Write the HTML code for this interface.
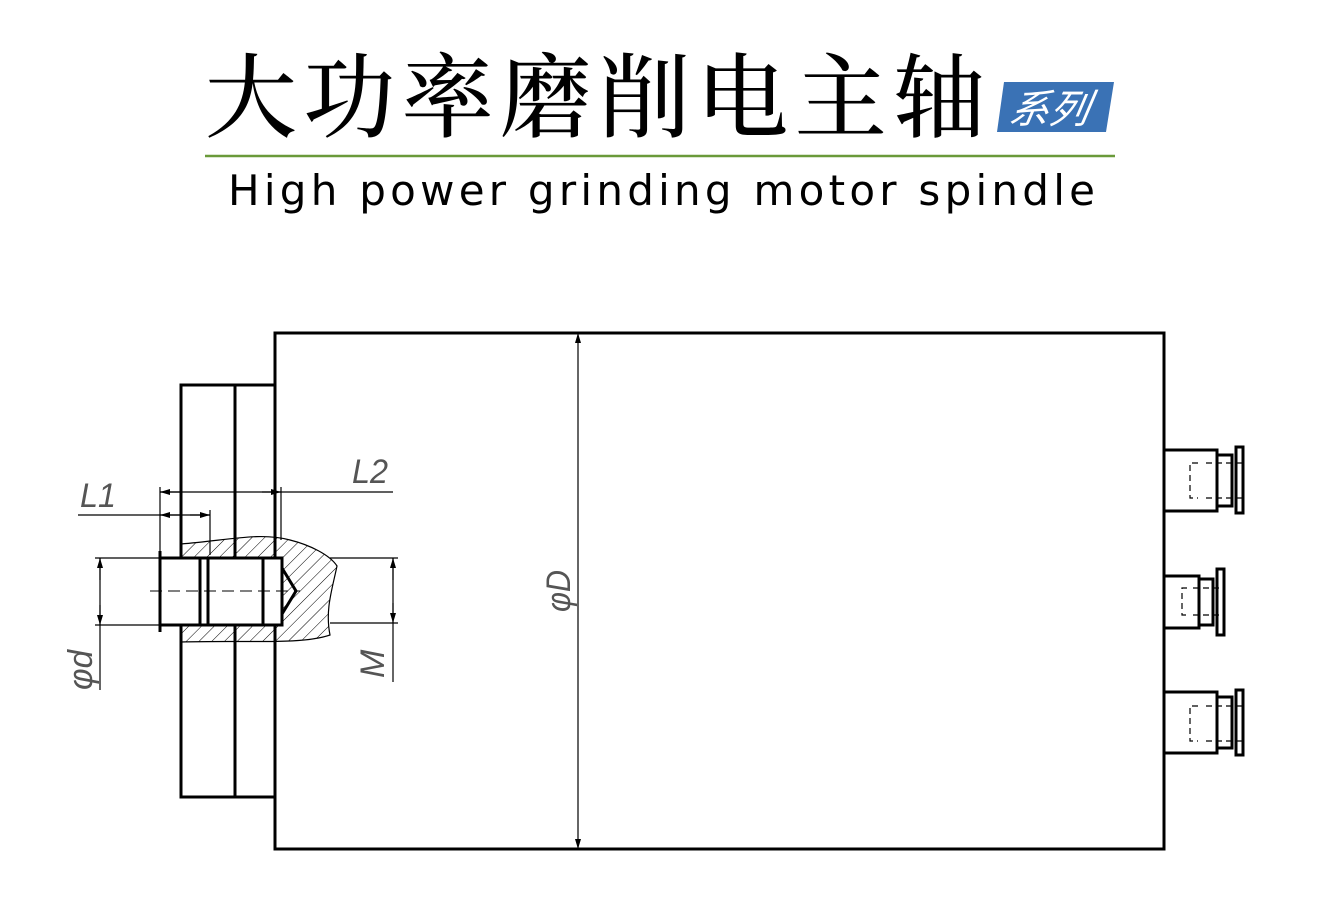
<!DOCTYPE html>
<html><head><meta charset="utf-8"><style>html,body{margin:0;padding:0;background:#fff}svg{display:block}</style></head>
<body>
<svg width="1325" height="913" viewBox="0 0 1325 913" xmlns="http://www.w3.org/2000/svg">
<defs>
<pattern id="h" patternUnits="userSpaceOnUse" width="9" height="9" patternTransform="rotate(45)">
<line x1="0" y1="0" x2="0" y2="9" stroke="#000" stroke-width="1"/>
</pattern>
<marker id="a" viewBox="0 0 10 10" refX="10" refY="5" markerWidth="10" markerHeight="10" orient="auto-start-reverse" markerUnits="userSpaceOnUse"><path d="M0,2 L10,5 L0,8 Z" fill="#000"/></marker>
</defs>
<text x="205" y="130" font-family="'Noto Serif CJK SC',serif" font-size="92" font-weight="500" textLength="780" lengthAdjust="spacing">大功率磨削电主轴</text>
<polygon points="1004,82 1114,82 1106,132 997,132" fill="#3a72b5"/>
<text x="1008" y="123" font-family="'Noto Sans CJK SC',sans-serif" font-size="40" fill="#fff" font-style="italic" transform="skewX(-10) translate(21,0)">系列</text>
<line x1="205" y1="156" x2="1115" y2="156" stroke="#6a9a3a" stroke-width="2.5"/>
<text x="228" y="205" font-family="'DejaVu Sans','Liberation Sans',sans-serif" font-size="42" textLength="867" lengthAdjust="spacing">High power grinding motor spindle</text>

<g fill="none" stroke="#000">
<rect x="275" y="333" width="889" height="516" stroke-width="3"/>
<rect x="181" y="385" width="94" height="412" stroke-width="3"/>
<line x1="235" y1="385" x2="235" y2="797" stroke-width="3"/>
<path d="M181,544 C230,540 260,532 290,540 C310,545 330,555 337,566 C332,590 325,610 330,635 C300,645 250,640 181,642 Z" fill="url(#h)" stroke="none"/>
<path d="M181,544 C230,540 260,532 290,540 C310,545 330,555 337,566 C332,590 325,610 330,635 C300,645 250,640 181,642" stroke-width="1.2"/>
<rect x="160" y="558" width="40" height="67" fill="#fff" stroke-width="3"/>
<line x1="160" y1="551" x2="160" y2="632" stroke-width="3"/>
<rect x="200" y="558" width="8" height="67" fill="#fff" stroke-width="3"/>
<rect x="208" y="558" width="74" height="67" fill="#fff" stroke-width="3"/>
<line x1="263" y1="558" x2="263" y2="625" stroke-width="3"/>
<path d="M282,568 L296,591 L282,614" stroke-width="3"/>
<line x1="150" y1="591" x2="300" y2="591" stroke-width="1" stroke-dasharray="12,6"/>
<g stroke-width="1.2">
<line x1="160" y1="487" x2="160" y2="551"/>
<line x1="210" y1="510" x2="210" y2="555"/>
<line x1="281" y1="487" x2="281" y2="540"/>
<line x1="160" y1="492" x2="393" y2="492"/>
<line x1="160" y1="492" x2="181" y2="492" marker-start="url(#a)"/>
<line x1="262" y1="492" x2="281" y2="492" marker-end="url(#a)"/>
<line x1="78" y1="515" x2="210" y2="515"/>
<line x1="160" y1="515" x2="180" y2="515" marker-start="url(#a)"/>
<line x1="190" y1="515" x2="210" y2="515" marker-end="url(#a)"/>
<line x1="95" y1="558" x2="160" y2="558"/>
<line x1="95" y1="625" x2="160" y2="625"/>
<line x1="100" y1="558" x2="100" y2="690"/>
<line x1="100" y1="580" x2="100" y2="558" marker-end="url(#a)"/>
<line x1="100" y1="605" x2="100" y2="625" marker-end="url(#a)"/>
<line x1="330" y1="558" x2="398" y2="558"/>
<line x1="330" y1="623" x2="398" y2="623"/>
<line x1="393" y1="558" x2="393" y2="682"/>
<line x1="393" y1="580" x2="393" y2="558" marker-end="url(#a)"/>
<line x1="393" y1="603" x2="393" y2="623" marker-end="url(#a)"/>
<line x1="578" y1="360" x2="578" y2="333" marker-end="url(#a)"/>
<line x1="578" y1="360" x2="578" y2="822"/>
<line x1="578" y1="822" x2="578" y2="849" marker-end="url(#a)"/>
</g>
<g stroke-width="3">
<rect x="1164" y="450" width="53" height="61"/><rect x="1217" y="455" width="15" height="51"/><rect x="1236" y="447" width="7" height="66"/>
<rect x="1164" y="576" width="35" height="52"/><rect x="1199" y="579" width="14" height="46"/><rect x="1217" y="569" width="7" height="66"/>
<rect x="1164" y="692" width="53" height="61"/><rect x="1217" y="697" width="15" height="51"/><rect x="1236" y="690" width="7" height="65"/>
</g>
<g stroke-width="1.2" stroke-dasharray="6,4">
<path d="M1198,463 L1190,463 L1190,498 L1198,498"/><line x1="1206" y1="463" x2="1242" y2="463"/><line x1="1206" y1="498" x2="1242" y2="498"/>
<path d="M1187,588 L1182,588 L1182,615 L1187,615"/><line x1="1193" y1="588" x2="1224" y2="588"/><line x1="1193" y1="615" x2="1224" y2="615"/>
<path d="M1198,706 L1190,706 L1190,741 L1198,741"/><line x1="1206" y1="706" x2="1242" y2="706"/><line x1="1206" y1="741" x2="1242" y2="741"/>
</g>
</g>
<g font-family="'Liberation Sans',sans-serif" font-style="italic" font-size="34" fill="#555">
<text x="80" y="507" textLength="36" lengthAdjust="spacingAndGlyphs">L1</text>
<text x="352" y="483" textLength="36" lengthAdjust="spacingAndGlyphs">L2</text>
<text transform="translate(92,690) rotate(-90)" textLength="40" lengthAdjust="spacingAndGlyphs">φd</text>
<text transform="translate(384,678) rotate(-90)">M</text>
<text transform="translate(570,612) rotate(-90)" textLength="42" lengthAdjust="spacingAndGlyphs">φD</text>
</g>
</svg>
</body></html>
